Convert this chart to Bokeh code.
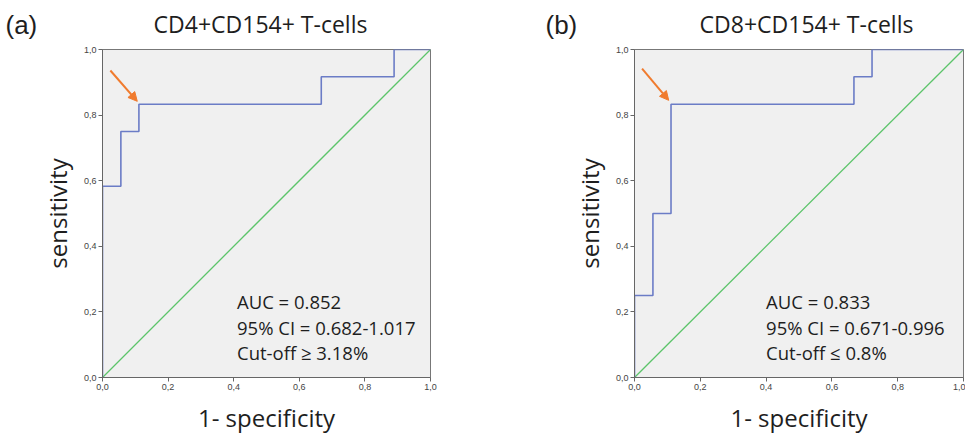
from bokeh.plotting import figure
from bokeh.models import Range1d, FixedTicker, Arrow, NormalHead, ColumnDataSource
from bokeh.layouts import row, column
from bokeh.core.properties import value
from bokeh.embed import file_html
from bokeh.resources import INLINE

# ---- data ----
tick_vals = [0.0, 0.2, 0.4, 0.6, 0.8, 1.0]
tick_labels = ["0,0", "0,2", "0,4", "0,6", "0,8", "1,0"]

cd4_fpr = [0.0, 0.0, 0.056, 0.056, 0.111, 0.111, 0.667, 0.667, 0.889, 0.889, 1.0]
cd4_tpr = [0.0, 0.583, 0.583, 0.75, 0.75, 0.833, 0.833, 0.917, 0.917, 1.0, 1.0]
cd8_fpr = [0.0, 0.0, 0.056, 0.056, 0.111, 0.111, 0.667, 0.667, 0.722, 0.722, 1.0]
cd8_tpr = [0.0, 0.25, 0.25, 0.5, 0.5, 0.833, 0.833, 0.917, 0.917, 1.0, 1.0]
ref_line = [0.0, 1.0]

cd4_stats = ["AUC = 0.852", "95% CI = 0.682-1.017", "Cut-off \u2265 3.18%"]
cd8_stats = ["AUC = 0.833", "95% CI = 0.671-0.996", "Cut-off \u2264 0.8%"]
stat_y = [0.231, 0.152, 0.076]

cd4_arrow = [0.024, 0.936, 0.106, 0.842]
cd8_arrow = [0.023, 0.942, 0.104, 0.845]

panel_letters = ["(a)", "(b)"]
panel_titles = ["CD4+CD154+ T-cells", "CD8+CD154+ T-cells"]

BLUE = "#6b7cc6"
GREEN = "#5cc46a"
ORANGE = "#f07b2e"
TXT = "Open Sans"
DARK = "#1e1e1e"

# ---- header strip with panel letters and titles (pixel coordinates) ----
HEADER_H = 44
head = figure(width=965, height=HEADER_H, output_backend="svg", toolbar_location=None,
              x_range=Range1d(0, 965), y_range=Range1d(HEADER_H, 0),
              min_border=0, min_border_left=0, min_border_right=0,
              min_border_top=0, min_border_bottom=0)
head.axis.visible = False
head.grid.visible = False
head.outline_line_color = None
head.background_fill_color = "white"
head.text(x=[5, 545], y=[24, 24], text=panel_letters, text_font=value("Liberation Sans"),
          text_font_size="26px", text_color=DARK, text_baseline="middle", text_align="left")
head.text(x=[260, 806], y=[23, 23], text=panel_titles, text_font=value(TXT),
          text_font_size="23px", text_color=DARK, text_baseline="middle", text_align="center")


def make_panel(fpr, tpr, stats, stat_x, arrow, width, left, right):
    p = figure(width=width, height=436 - HEADER_H, output_backend="svg", toolbar_location=None,
               x_range=Range1d(0, 1), y_range=Range1d(0, 1),
               min_border_left=left, min_border_right=right,
               min_border_top=5, min_border_bottom=58)
    p.background_fill_color = "#f0f0f0"
    p.border_fill_color = "white"
    p.outline_line_color = "#777777"
    p.outline_line_width = 1
    p.grid.visible = False
    for ax in (p.xaxis[0], p.yaxis[0]):
        ax.ticker = FixedTicker(ticks=tick_vals)
        ax.major_label_overrides = {v: l for v, l in zip(tick_vals, tick_labels)}
        ax.major_label_text_font = "Liberation Sans"
        ax.major_label_text_font_size = "9px"
        ax.major_label_text_color = "#444444"
        ax.major_tick_in = 0
        ax.major_tick_out = 4
        ax.minor_tick_line_color = None
        ax.axis_line_color = "#666666"
        ax.major_tick_line_color = "#666666"
        ax.major_label_standoff = 2
        ax.axis_label_text_font = TXT
        ax.axis_label_text_font_size = "24px"
        ax.axis_label_text_font_style = "normal"
        ax.axis_label_text_color = DARK
    p.yaxis[0].axis_label = "sensitivity"
    p.yaxis[0].axis_label_standoff = 7
    p.xaxis[0].axis_label = "1- specificity"
    p.xaxis[0].axis_label_standoff = 8

    p.line(ref_line, ref_line, line_color=GREEN, line_width=1.3)
    p.line(fpr, tpr, line_color=BLUE, line_width=1.6)

    src = ColumnDataSource(dict(x=[stat_x] * len(stats), y=stat_y, t=stats))
    p.text(x="x", y="y", text="t", source=src, text_font=value(TXT),
           text_font_size="18.5px", text_color=DARK, text_baseline="middle",
           text_align="left")

    p.add_layout(Arrow(end=NormalHead(size=9, fill_color=ORANGE, line_color=ORANGE),
                       x_start=arrow[0], y_start=arrow[1], x_end=arrow[2], y_end=arrow[3],
                       line_color=ORANGE, line_width=2))
    return p


p1 = make_panel(cd4_fpr, cd4_tpr, cd4_stats, 0.41, cd4_arrow, 530, 102, 100)
p2 = make_panel(cd8_fpr, cd8_tpr, cd8_stats, 0.40, cd8_arrow, 435, 104, 2)

layout = column(head, row(p1, p2))
open("out.html", "w").write(file_html(layout, INLINE))
